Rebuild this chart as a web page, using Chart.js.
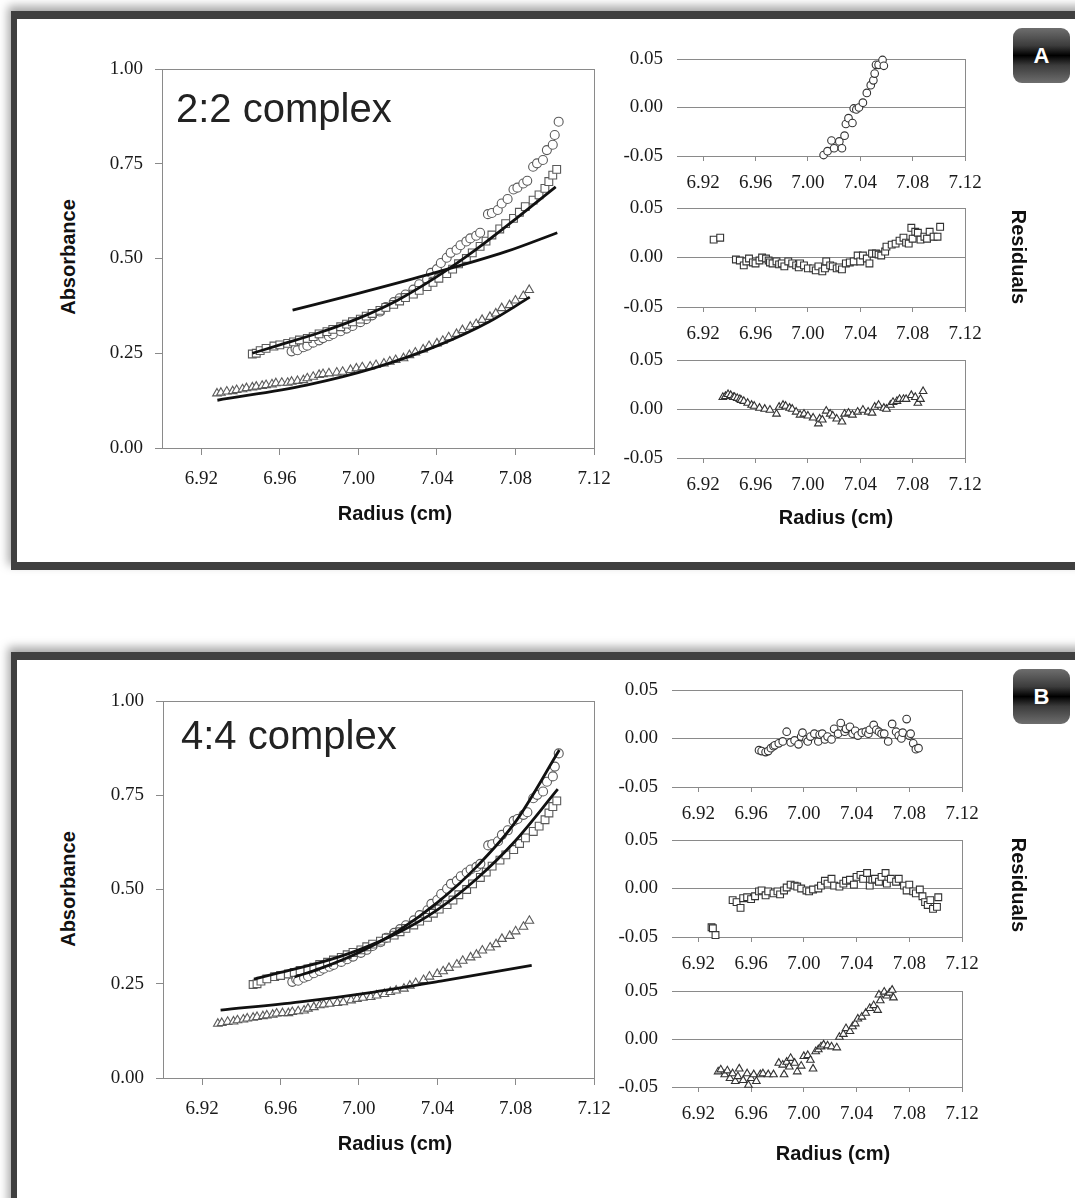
<!DOCTYPE html>
<html><head><meta charset="utf-8">
<script src="https://cdn.jsdelivr.net/npm/chart.js@4.4.0/dist/chart.umd.min.js"></script>
<style>
html,body{margin:0;padding:0;background:#fff;}
body{position:relative;width:1075px;height:1198px;overflow:hidden;font-family:'Liberation Sans',Arial,sans-serif;}
.frame{position:absolute;left:11px;width:1120px;background:#fff;border-left:6px solid #404040;border-top:8px solid #404040;box-shadow:-3px -5px 9px rgba(0,0,0,0.35);}
#frameA{top:11px;height:543px;border-bottom:8px solid #404040;}
#frameB{top:652px;height:620px;}
.tag{position:absolute;width:57px;height:55px;border-radius:9px;background:linear-gradient(to bottom,#6e6e6e 0%,#3c3c3c 32%,#000 50%,#3c3c3c 68%,#6e6e6e 100%);color:#fff;font:bold 22px 'Liberation Sans',Arial,sans-serif;display:flex;align-items:center;justify-content:center;}
canvas{position:absolute;}
.t{position:absolute;white-space:nowrap;color:#111;}
.ax{font:bold 20px 'Liberation Sans',Arial,sans-serif;transform:translate(-50%,-50%);}
.rl{transform:translate(-50%,-50%) rotate(-90deg);}
.rr{transform:translate(-50%,-50%) rotate(90deg);}
.cx{font:40px/40px 'Liberation Sans',Arial,sans-serif;color:#222;}
</style></head>
<body>
<div class="frame" id="frameA"></div>
<div class="frame" id="frameB"></div>
<div class="tag" style="left:1013px;top:28px;">A</div>
<div class="tag" style="left:1013px;top:669px;">B</div>

<canvas id="mainA"></canvas>
<canvas id="resA1"></canvas>
<canvas id="resA2"></canvas>
<canvas id="resA3"></canvas>
<canvas id="mainB"></canvas>
<canvas id="resB1"></canvas>
<canvas id="resB2"></canvas>
<canvas id="resB3"></canvas>

<div class="t cx" style="left:176px;top:88px;">2:2 complex</div>
<div class="t cx" style="left:181px;top:715px;">4:4 complex</div>
<div class="t ax rl" style="left:68px;top:257px;">Absorbance</div>
<div class="t ax rl" style="left:68px;top:889px;">Absorbance</div>
<div class="t ax" style="left:395px;top:513px;">Radius (cm)</div>
<div class="t ax" style="left:395px;top:1143px;">Radius (cm)</div>
<div class="t ax" style="left:836px;top:517px;">Radius (cm)</div>
<div class="t ax" style="left:833px;top:1153px;">Radius (cm)</div>
<div class="t ax rr" style="left:1018px;top:257px;">Residuals</div>
<div class="t ax rr" style="left:1018px;top:885px;">Residuals</div>

<script>
// ---------- tick labels ----------
const radiusTicks = [6.92, 6.96, 7.00, 7.04, 7.08, 7.12];
const absTicks = [0, 0.25, 0.50, 0.75, 1.00];
const resTicks = [-0.05, 0, 0.05];

// ---------- absorbance data (same data in both panels) ----------
const circX = [6.966,6.968,6.969,6.972,6.974,6.977,6.980,6.982,6.985,6.987,6.991,6.994,6.997,7.001,7.004,7.007,7.011,7.014,7.018,7.021,7.024,7.028,7.031,7.035,7.037,7.040,7.042,7.045,7.047,7.050,7.052,7.055,7.057,7.060,7.062,7.066,7.068,7.071,7.073,7.076,7.079,7.081,7.084,7.086,7.089,7.091,7.094,7.096,7.099,7.100,7.102];
const circY = [0.255,0.262,0.258,0.266,0.270,0.278,0.284,0.290,0.295,0.300,0.308,0.315,0.322,0.332,0.340,0.350,0.360,0.372,0.385,0.395,0.405,0.418,0.432,0.445,0.462,0.472,0.488,0.502,0.515,0.523,0.535,0.545,0.553,0.560,0.568,0.617,0.620,0.628,0.645,0.657,0.682,0.687,0.698,0.705,0.742,0.751,0.760,0.786,0.800,0.826,0.861];

const sqX = [6.946,6.948,6.950,6.953,6.957,6.960,6.964,6.967,6.970,6.974,6.977,6.980,6.984,6.987,6.991,6.994,6.997,7.001,7.004,7.007,7.011,7.014,7.018,7.021,7.024,7.028,7.031,7.035,7.038,7.041,7.045,7.048,7.051,7.055,7.058,7.062,7.065,7.068,7.072,7.075,7.079,7.082,7.085,7.089,7.092,7.095,7.097,7.099,7.101];
const sqY = [0.248,0.250,0.257,0.263,0.269,0.272,0.276,0.280,0.285,0.289,0.294,0.301,0.307,0.313,0.320,0.327,0.333,0.340,0.348,0.355,0.363,0.371,0.379,0.388,0.397,0.406,0.416,0.426,0.437,0.448,0.460,0.472,0.486,0.500,0.515,0.532,0.546,0.562,0.578,0.592,0.606,0.622,0.637,0.654,0.668,0.685,0.703,0.720,0.735];

const triX = [6.928,6.930,6.933,6.936,6.938,6.941,6.943,6.946,6.948,6.951,6.953,6.956,6.958,6.961,6.964,6.966,6.969,6.972,6.974,6.977,6.980,6.982,6.985,6.989,6.992,6.996,6.999,7.002,7.006,7.009,7.013,7.016,7.019,7.023,7.026,7.029,7.033,7.036,7.040,7.043,7.046,7.050,7.053,7.057,7.060,7.063,7.067,7.070,7.073,7.077,7.080,7.084,7.087];
const triY = [0.144,0.146,0.149,0.150,0.153,0.155,0.158,0.160,0.162,0.164,0.166,0.168,0.171,0.172,0.172,0.175,0.177,0.179,0.184,0.188,0.193,0.195,0.197,0.199,0.201,0.206,0.210,0.213,0.215,0.219,0.223,0.228,0.232,0.237,0.245,0.252,0.260,0.269,0.276,0.283,0.292,0.301,0.311,0.320,0.327,0.338,0.346,0.355,0.369,0.377,0.389,0.401,0.417];

// ---------- fitted curves, panel A (2:2) ----------
const fitA_sqX = [6.946,6.96,6.98,7.00,7.02,7.04,7.06,7.08,7.1005];
const fitA_sqY = [0.250,0.272,0.304,0.342,0.390,0.452,0.524,0.604,0.689];
const fitA_ciX = [6.9665,7.00,7.0345,7.0751,7.1013];
const fitA_ciY = [0.364,0.408,0.456,0.518,0.568];
const fitA_trX = [6.9282,6.9736,7.0074,7.0413,7.0666,7.0873];
const fitA_trY = [0.126,0.166,0.210,0.272,0.333,0.398];

// ---------- fitted curves, panel B (4:4) ----------
const fitB_ciX = [6.9672,6.98,7.00,7.02,7.04,7.06,7.08,7.1023];
const fitB_ciY = [0.268,0.290,0.333,0.390,0.465,0.560,0.680,0.870];
const fitB_sqX = [6.9464,6.96,6.98,7.00,7.02,7.04,7.06,7.08,7.1015];
const fitB_sqY = [0.262,0.280,0.306,0.340,0.385,0.446,0.528,0.630,0.766];
const fitB_trX = [6.9294,6.97,7.0077,7.0418,7.0882];
const fitB_trY = [0.180,0.202,0.228,0.257,0.299];

// ---------- residuals, panel A ----------
const resA1X = [7.012,7.015,7.018,7.020,7.024,7.026,7.028,7.029,7.031,7.034,7.035,7.037,7.039,7.042,7.045,7.048,7.050,7.051,7.052,7.054,7.057,7.058];
const resA1Y = [-0.049,-0.045,-0.034,-0.042,-0.035,-0.042,-0.029,-0.017,-0.011,-0.016,-0.001,-0.002,0.000,0.005,0.015,0.023,0.028,0.035,0.044,0.044,0.049,0.043];
const resA2X = [6.928,6.933,6.945,6.948,6.951,6.953,6.955,6.958,6.960,6.963,6.965,6.968,6.970,6.971,6.973,6.976,6.978,6.980,6.982,6.985,6.988,6.991,6.993,6.994,6.997,7.000,7.004,7.006,7.008,7.011,7.013,7.014,7.017,7.019,7.022,7.024,7.026,7.029,7.032,7.035,7.038,7.040,7.042,7.045,7.047,7.049,7.052,7.054,7.056,7.059,7.060,7.064,7.067,7.070,7.073,7.075,7.077,7.079,7.080,7.082,7.084,7.086,7.089,7.091,7.093,7.096,7.099,7.101];
const resA2Y = [0.018,0.020,-0.002,-0.003,-0.008,-0.004,-0.001,-0.005,-0.006,-0.003,0.000,-0.001,-0.003,-0.005,-0.006,-0.004,-0.007,-0.006,-0.009,-0.004,-0.006,-0.008,-0.010,-0.006,-0.008,-0.011,-0.011,-0.013,-0.009,-0.014,-0.011,-0.004,-0.008,-0.009,-0.011,-0.010,-0.012,-0.006,-0.005,-0.004,0.002,-0.004,0.002,-0.001,-0.006,0.004,0.004,0.003,0.002,0.006,0.011,0.013,0.014,0.017,0.020,0.015,0.014,0.030,0.019,0.026,0.025,0.018,0.021,0.019,0.026,0.021,0.021,0.031];
const resA3X = [6.935,6.937,6.939,6.941,6.943,6.944,6.946,6.948,6.949,6.951,6.954,6.957,6.959,6.963,6.967,6.971,6.976,6.978,6.981,6.983,6.986,6.988,6.991,6.994,6.997,7.000,7.004,7.008,7.009,7.011,7.014,7.017,7.019,7.022,7.026,7.028,7.031,7.034,7.038,7.042,7.046,7.049,7.051,7.054,7.058,7.060,7.063,7.065,7.068,7.070,7.073,7.075,7.079,7.082,7.084,7.086,7.088];
const resA3Y = [0.012,0.013,0.015,0.014,0.012,0.012,0.011,0.010,0.009,0.008,0.006,0.004,0.003,0.001,0.000,-0.001,-0.005,0.002,0.004,0.003,0.001,0.000,-0.003,-0.006,-0.005,-0.007,-0.009,-0.015,-0.010,-0.011,-0.002,-0.005,-0.007,-0.010,-0.013,-0.005,-0.004,-0.006,-0.003,-0.001,-0.003,-0.004,0.002,0.004,0.001,0.000,0.004,0.007,0.008,0.010,0.010,0.010,0.014,0.012,0.006,0.010,0.018];

// ---------- residuals, panel B ----------
const resB1X = [6.966,6.968,6.971,6.973,6.975,6.977,6.978,6.981,6.984,6.987,6.990,6.993,6.996,6.998,6.999,7.002,7.003,7.005,7.008,7.011,7.012,7.014,7.016,7.018,7.021,7.023,7.026,7.028,7.031,7.032,7.035,7.037,7.039,7.041,7.044,7.047,7.049,7.050,7.053,7.055,7.057,7.059,7.061,7.064,7.067,7.070,7.072,7.074,7.075,7.078,7.080,7.081,7.083,7.085,7.087];
const resB1Y = [-0.012,-0.013,-0.014,-0.013,-0.010,-0.008,-0.007,-0.005,-0.003,0.007,-0.004,-0.002,-0.006,0.002,0.006,-0.001,-0.003,0.002,0.005,-0.003,0.004,0.005,-0.001,0.002,-0.001,0.010,0.005,0.016,0.007,0.010,0.012,0.005,0.008,0.003,0.006,0.007,0.005,0.009,0.014,0.009,0.007,0.005,0.005,-0.003,0.015,0.007,0.003,0.000,0.006,0.020,0.003,0.005,-0.005,-0.011,-0.010];
const resB2X = [6.930,6.931,6.933,6.946,6.949,6.952,6.954,6.957,6.960,6.963,6.966,6.968,6.971,6.973,6.977,6.980,6.982,6.985,6.987,6.990,6.993,6.995,6.998,7.002,7.004,7.007,7.011,7.013,7.016,7.018,7.021,7.023,7.027,7.030,7.032,7.035,7.038,7.040,7.043,7.045,7.048,7.050,7.052,7.054,7.057,7.059,7.062,7.063,7.066,7.070,7.072,7.076,7.078,7.080,7.083,7.085,7.088,7.090,7.092,7.094,7.096,7.098,7.101,7.102];
const resB2Y = [-0.040,-0.041,-0.048,-0.012,-0.014,-0.020,-0.010,-0.009,-0.011,-0.008,-0.003,-0.002,-0.007,-0.003,-0.005,-0.003,-0.006,-0.002,0.001,0.004,0.003,0.002,0.000,-0.002,-0.003,-0.001,0.000,0.003,0.008,0.005,0.010,0.003,0.002,0.005,0.008,0.009,0.004,0.012,0.014,0.010,0.016,0.003,0.009,0.010,0.007,0.012,0.016,0.005,0.010,0.007,0.010,0.003,-0.002,0.004,-0.003,-0.005,-0.001,-0.008,-0.014,-0.017,-0.012,-0.021,-0.019,-0.009];
const resB3X = [6.935,6.937,6.940,6.942,6.944,6.946,6.948,6.950,6.951,6.954,6.957,6.958,6.960,6.962,6.964,6.967,6.969,6.973,6.977,6.981,6.984,6.985,6.987,6.989,6.990,6.993,6.995,6.998,7.000,7.003,7.005,7.007,7.009,7.011,7.013,7.015,7.018,7.021,7.025,7.027,7.030,7.032,7.035,7.037,7.039,7.041,7.044,7.047,7.050,7.053,7.056,7.057,7.058,7.061,7.063,7.065,7.067,7.068];
const resB3Y = [-0.034,-0.032,-0.037,-0.033,-0.041,-0.036,-0.044,-0.039,-0.031,-0.043,-0.036,-0.048,-0.041,-0.037,-0.044,-0.037,-0.036,-0.037,-0.037,-0.025,-0.027,-0.037,-0.024,-0.029,-0.020,-0.025,-0.034,-0.028,-0.018,-0.017,-0.022,-0.031,-0.013,-0.011,-0.008,-0.006,-0.007,-0.008,-0.009,0.002,0.005,0.011,0.008,0.013,0.016,0.021,0.023,0.027,0.032,0.035,0.030,0.046,0.040,0.049,0.045,0.048,0.051,0.043];

// ---------- helpers ----------
const GRID = '#8a8a8a';
const CLEAR = 'rgba(0,0,0,0)';
const TICKFONT = {family: "'Liberation Serif','Times New Roman',serif", size: 19};

function pts(xs, ys) { return xs.map((x, i) => ({x: x, y: ys[i]})); }
function markers(xs, ys, style, r, color) {
  return {data: pts(xs, ys), showLine: false, pointStyle: style, pointRadius: r,
          pointBorderWidth: 1.1, pointBorderColor: color, pointBackgroundColor: '#ffffff',
          order: 2, clip: false};
}
function fit(xs, ys) {
  return {data: pts(xs, ys), showLine: true, pointRadius: 0, borderColor: '#111111',
          borderWidth: 2.8, cubicInterpolationMode: 'monotone', fill: false, order: 1};
}
function near(a, b) { return Math.abs(a - b) < 1e-9; }

function build(id, area, m, datasets, yCfg) {
  const cv = document.getElementById(id);
  const w = (area.r - area.l) + m.yW + m.padR;
  const h = (area.b - area.t) + m.padT + m.xH;
  cv.width = w; cv.height = h;
  cv.style.width = w + 'px'; cv.style.height = h + 'px';
  cv.style.left = (area.l - m.yW) + 'px';
  cv.style.top = (area.t - m.padT) + 'px';
  new Chart(cv, {
    type: 'scatter',
    data: {datasets: datasets},
    options: {
      responsive: false, animation: false, devicePixelRatio: 1, events: [],
      plugins: {legend: {display: false}, tooltip: {enabled: false}},
      layout: {padding: {top: m.padT, right: m.padR, left: 0, bottom: 0}},
      scales: {
        x: {
          type: 'linear', min: 6.90, max: 7.12,
          afterBuildTicks: s => { s.ticks = radiusTicks.map(v => ({value: v})); },
          afterFit: s => { s.height = m.xH; },
          ticks: {font: TICKFONT, color: '#1a1a1a', padding: m.xPad, maxRotation: 0, autoSkip: false,
                  callback: v => Number(v).toFixed(2)},
          grid: {display: true, drawOnChartArea: true, drawTicks: true, tickLength: m.xTick,
                 tickColor: GRID, lineWidth: 1,
                 color: c => (c.tick && near(c.tick.value, 7.12)) ? GRID : CLEAR},
          border: {display: true, color: GRID, width: 1}
        },
        y: {
          type: 'linear', min: yCfg.min, max: yCfg.max,
          afterBuildTicks: s => { s.ticks = yCfg.ticks.map(v => ({value: v})); },
          afterFit: s => { s.width = m.yW; },
          ticks: {font: TICKFONT, color: '#1a1a1a', padding: m.yPad,
                  callback: v => Number(v).toFixed(2)},
          grid: {display: true, drawOnChartArea: true, drawTicks: yCfg.drawTicks, tickLength: 7,
                 tickColor: GRID, lineWidth: 1,
                 color: c => (c.tick && yCfg.lines.some(v => near(c.tick.value, v))) ? GRID : CLEAR},
          border: {display: yCfg.border, color: GRID, width: 1}
        }
      }
    }
  });
}

const mainM = {yW: 72, padT: 32, padR: 36, xH: 60, xPad: 13, xTick: 7, yPad: 12};
const resM  = {yW: 70, padT: 32, padR: 36, xH: 46, xPad: 11, xTick: 5, yPad: 14};
const mainY = {min: 0, max: 1, ticks: absTicks, lines: [1], drawTicks: true, border: true};
const resY  = {min: -0.05, max: 0.05, ticks: resTicks, lines: [0, 0.05], drawTicks: false, border: false};

const MC = '#5a5a5a', RC = '#333333';

// Panel A
build('mainA', {l: 162, t: 69, r: 594, b: 448}, mainM, [
  fit(fitA_sqX, fitA_sqY), fit(fitA_ciX, fitA_ciY), fit(fitA_trX, fitA_trY),
  markers(triX, triY, 'triangle', 5.0, MC),
  markers(sqX, sqY, 'rect', 5.5, MC),
  markers(circX, circY, 'circle', 4.5, MC)
], mainY);
build('resA1', {l: 677, t: 59, r: 965, b: 156}, resM, [markers(resA1X, resA1Y, 'circle', 3.8, RC)], resY);
build('resA2', {l: 677, t: 208, r: 965, b: 307}, resM, [markers(resA2X, resA2Y, 'rect', 4.8, RC)], resY);
build('resA3', {l: 677, t: 360, r: 965, b: 458}, resM, [markers(resA3X, resA3Y, 'triangle', 4.4, RC)], resY);

// Panel B
build('mainB', {l: 163, t: 701, r: 594, b: 1078}, mainM, [
  fit(fitB_sqX, fitB_sqY), fit(fitB_ciX, fitB_ciY), fit(fitB_trX, fitB_trY),
  markers(triX, triY, 'triangle', 5.0, MC),
  markers(sqX, sqY, 'rect', 5.5, MC),
  markers(circX, circY, 'circle', 4.5, MC)
], mainY);
build('resB1', {l: 672, t: 690, r: 962, b: 787}, resM, [markers(resB1X, resB1Y, 'circle', 3.8, RC)], resY);
build('resB2', {l: 672, t: 840, r: 962, b: 937}, resM, [markers(resB2X, resB2Y, 'rect', 4.8, RC)], resY);
build('resB3', {l: 672, t: 991, r: 962, b: 1087}, resM, [markers(resB3X, resB3Y, 'triangle', 4.4, RC)], resY);
</script>
</body></html>
